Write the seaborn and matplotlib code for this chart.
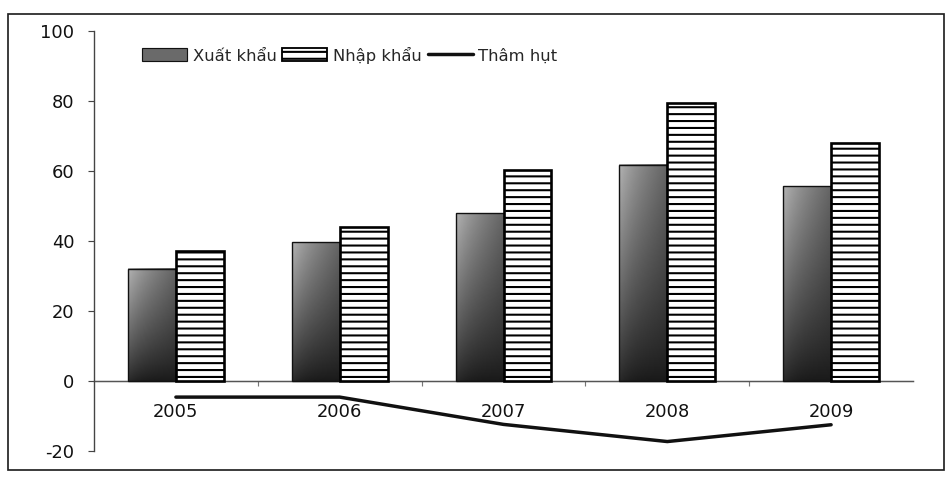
import numpy as np
import pandas as pd
import matplotlib
matplotlib.use("Agg")
import matplotlib.pyplot as plt
import seaborn as sns
from matplotlib.patches import Patch, Rectangle
from matplotlib.lines import Line2D
from matplotlib.ticker import FixedLocator

# Data (tỷ USD)
years = ["2005", "2006", "2007", "2008", "2009"]
xuat_khau = [32.1, 39.7, 48.0, 61.8, 55.6]
nhap_khau = [37.2, 44.0, 60.4, 79.5, 68.0]
tham_hut = [-4.6, -4.6, -12.4, -17.3, -12.5]
series_names = ["Xuất khẩu", "Nhập khẩu", "Thâm hụt"]
y_ticks = [-20, 0, 20, 40, 60, 80, 100]

sns.set_theme(style="white")
plt.rcParams["font.family"] = ["DejaVu Sans"]
plt.rcParams["hatch.linewidth"] = 1.8
plt.rcParams["hatch.color"] = "black"

DPI = 83
W, H = 948, 478
fig = plt.figure(figsize=(W / DPI, H / DPI), dpi=DPI)
fig.patch.set_facecolor("white")
ax = fig.add_axes([94 / W, 1 - 451 / H, (913 - 94) / W, (451 - 31) / H])
ax.set_facecolor("white")

df = pd.DataFrame({
    "Năm": years * 2,
    "Giá trị": xuat_khau + nhap_khau,
    "Loại": [series_names[0]] * len(years) + [series_names[1]] * len(years),
})

sns.barplot(data=df, x="Năm", y="Giá trị", hue="Loại", order=years,
            hue_order=series_names[:2], palette=["#666666", "white"],
            width=0.585, gap=0, saturation=1, legend=False, ax=ax)

xk_bars, nk_bars = ax.containers[0], ax.containers[1]

# shaded fill for export bars: lighter at the top-left, dark towards bottom-right
ny, nx = 120, 40
v = np.linspace(1, 0, ny)[:, None]
u = np.linspace(0, 1, nx)[None, :]
shade = 0.10 + 0.54 * v ** 0.85 * (1 - 0.45 * u) + 0.06 * (1 - u) ** 4
for bar in xk_bars:
    x0, w, h = bar.get_x(), bar.get_width(), bar.get_height()
    ax.imshow(shade, extent=(x0, x0 + w, 0, h), aspect="auto", cmap="gray",
              vmin=0, vmax=1, zorder=1.5, interpolation="bilinear")
    bar.set_facecolor("none")
    bar.set_edgecolor("#111111")
    bar.set_linewidth(1.2)
    bar.set_zorder(2)

for bar in nk_bars:
    bar.set_facecolor("white")
    bar.set_edgecolor("black")
    bar.set_linewidth(2.3)
    bar.set_hatch("--")
    bar.set_zorder(2)

# trade deficit line
sns.lineplot(x=np.arange(len(years)), y=tham_hut, color="#111111",
             linewidth=3.0, ax=ax, zorder=3)

ax.set_xlim(-0.5, len(years) - 0.5)
ax.set_ylim(-20, 100)
ax.set_xlabel("")
ax.set_ylabel("")

# axes styling
for s in ("top", "right"):
    ax.spines[s].set_visible(False)
ax.spines["left"].set_color("#444444")
ax.spines["left"].set_linewidth(1.2)
ax.spines["bottom"].set_position(("data", 0))
ax.spines["bottom"].set_color("#555555")
ax.spines["bottom"].set_linewidth(1.3)
ax.spines["bottom"].set_zorder(1)

ax.set_yticks(y_ticks)
ax.set_yticklabels([str(t) for t in y_ticks])
ax.tick_params(axis="y", which="major", left=True, direction="out", length=5,
               width=1.0, color="#444444", pad=12, labelsize=15.5,
               labelcolor="#111111")

ax.set_xticks(range(len(years)))
ax.set_xticklabels(years)
ax.xaxis.set_minor_locator(FixedLocator(np.arange(0.5, len(years) - 1, 1.0)))
ax.tick_params(axis="x", which="major", bottom=True, length=0, pad=19,
               labelsize=15.5, labelcolor="#111111")
ax.tick_params(axis="x", which="minor", bottom=True, direction="out",
               length=4.5, width=1.0, color="#777777")

# legend
handles = [
    Patch(facecolor="#6a6a6a", edgecolor="#111111", linewidth=1.0),
    Patch(facecolor="white", edgecolor="black", linewidth=1.6, hatch="--"),
    Line2D([], [], color="#111111", linewidth=3.0),
]
ax.legend(handles, series_names, ncol=3, frameon=False, fontsize=14.2,
          loc="center left", bbox_to_anchor=((142 - 94) / 819, (451 - 55) / 420),
          borderpad=0, borderaxespad=0, handlelength=2.75, handleheight=0.85,
          handletextpad=0.35, columnspacing=0.35)

# outer frame
fig.patches.append(Rectangle((8 / W, 1 - 470 / H), (944 - 8) / W, (470 - 14) / H,
                             transform=fig.transFigure, fill=False,
                             edgecolor="#222222", linewidth=1.5))

fig.savefig("out.png", dpi=DPI, facecolor="white")
